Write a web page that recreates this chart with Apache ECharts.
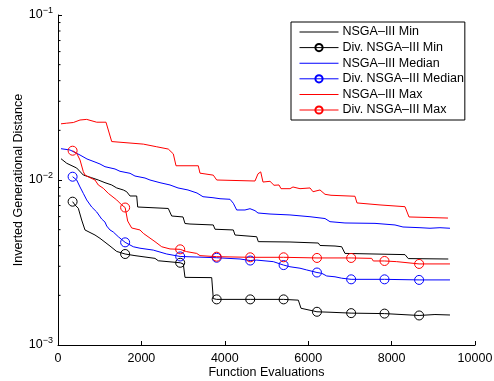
<!DOCTYPE html>
<html>
<head>
<meta charset="utf-8">
<script src="https://cdn.jsdelivr.net/npm/echarts@6/dist/echarts.min.js"></script>
<style>
html,body{margin:0;padding:0;background:#fff;}
#chart{width:494px;height:381px;}
</style>
</head>
<body>
<div id="chart"></div>
<script>
// ---- Data (x = function evaluations, y = IGD) ----
var seriesNames = ['NSGA\u2013III Min', 'Div. NSGA\u2013III Min', 'NSGA\u2013III Median',
  'Div. NSGA\u2013III Median', 'NSGA\u2013III Max', 'Div. NSGA\u2013III Max'];
var xTicks = [0, 2000, 4000, 6000, 8000, 10000];
var yMinorTicks = [0.002,0.003,0.004,0.005,0.006,0.007,0.008,0.009,
  0.02,0.03,0.04,0.05,0.06,0.07,0.08,0.09];

var nsgaMin = [[72,0.01346],[209,0.01263],[448,0.01182],[607,0.01072],[808,0.01032],[966,0.0100],
  [1127,0.00963],[1288,0.00933],[1408,0.00895],[1566,0.00870],[1647,0.00849],[1727,0.00800],
  [1887,0.00800],[1911,0.00686],[2645,0.00672],[2726,0.00605],[2998,0.00597],[3045,0.00545],
  [3165,0.00541],[3724,0.00534],[3765,0.00503],[4204,0.00498],[4245,0.00464],[4765,0.00453],
  [4803,0.00423],[5563,0.00421],[6242,0.00415],[6283,0.00401],[6643,0.00398],[6803,0.00394],
  [6882,0.00359],[8321,0.00353],[8400,0.00334],[9359,0.00332]];

var divMinCurve = [[408,0.00706],[487,0.00674],[568,0.00572],[647,0.00498],[688,0.00486],
  [887,0.00464],[1007,0.00443],[1247,0.00398],[1408,0.00369],[1846,0.00348],[2326,0.00335],
  [2405,0.00324],[3005,0.00310],[3045,0.00257],[3686,0.00256],[3724,0.00191],[5763,0.00187],
  [5827,0.00167],[6523,0.00158],[9040,0.00153],[9400,0.00152]];
var divMinMarkers = [[350,0.00739],[1610,0.00356],[2930,0.00315],[3805,0.00189],[4610,0.00189],
  [5410,0.00189],[6210,0.00159],[7030,0.00156],[7830,0.00155],[8660,0.00151]];

var nsgaMedian = [[72,0.01548],[288,0.01520],[528,0.01417],[695,0.01341],[887,0.01285],
  [1007,0.01250],[1127,0.01204],[1367,0.01166],[1487,0.01129],[1727,0.01098],[1846,0.01057],
  [2086,0.01028],[2206,0.0100],[2446,0.00963],[2686,0.00933],[2878,0.00895],[3117,0.00870],
  [3333,0.00834],[3477,0.00792],[3717,0.00781],[3885,0.00770],[4125,0.00764],[4204,0.00723],
  [4285,0.00658],[4484,0.00658],[4604,0.00670],[4724,0.00652],[4796,0.00631],[5084,0.00622],
  [5563,0.00614],[6043,0.00599],[6403,0.00584],[6523,0.00559],[6882,0.00549],[7602,0.00546],
  [8081,0.00534],[8273,0.00519],[8681,0.00514],[8921,0.00510],[9160,0.00514],[9400,0.00510]];

var divMedianCurve = [[448,0.0100],[528,0.00907],[607,0.00830],[688,0.00757],[808,0.00686],
  [928,0.00640],[1048,0.00580],[1127,0.00556],[1168,0.00526],[1247,0.00498],[1326,0.00484],
  [1446,0.00453],[1806,0.00394],[1966,0.00386],[2285,0.00376],[2607,0.00356],[4365,0.00332],
  [4765,0.00327],[5163,0.00320],[5563,0.00298],[5803,0.00292],[5964,0.00285],[6324,0.00272],
  [6444,0.00262],[6643,0.00259],[6803,0.00254],[9400,0.00248]];
var divMedianMarkers = [[350,0.01047],[1610,0.00419],[2930,0.00344],[3805,0.00338],[4610,0.00325],
  [5410,0.00305],[6210,0.00275],[7030,0.00250],[7830,0.00250],[8660,0.00248]];

var nsgaMax = [[72,0.0219],[209,0.0221],[367,0.0223],[528,0.0231],[688,0.0233],[928,0.0224],
  [1151,0.0224],[1288,0.0171],[2046,0.0165],[2367,0.0159],[2645,0.0154],[2765,0.0144],
  [2830,0.0122],[3364,0.0122],[3405,0.0110],[3724,0.0107],[3806,0.0100],[4724,0.00986],
  [4796,0.0109],[4861,0.0112],[4916,0.00972],[5084,0.00982],[5180,0.00929],[5300,0.00933],
  [5348,0.00886],[5563,0.00886],[5635,0.00907],[5803,0.00886],[6043,0.00895],[6115,0.00849],
  [6283,0.00870],[6403,0.00819],[6547,0.00808],[7122,0.00797],[7170,0.00726],[7722,0.00706],
  [8321,0.00689],[8417,0.00597],[9352,0.00588]];

var divMaxCurve = [[448,0.01452],[528,0.01322],[607,0.01123],[647,0.01072],[727,0.01045],
  [887,0.0100],[966,0.00933],[1086,0.00891],[1206,0.00830],[1408,0.00757],[1528,0.00706],
  [1671,0.00564],[1767,0.00512],[1966,0.00498],[2046,0.00475],[2326,0.00423],[2487,0.00394],
  [2686,0.00382],[3086,0.00368],[3326,0.00359],[3405,0.00348],[6961,0.00337],[7522,0.00335],
  [7561,0.00323],[8122,0.00320],[8160,0.00312],[9400,0.00310]];
var divMaxMarkers = [[350,0.01505],[1610,0.00681],[2930,0.00380],[3805,0.00343],[4610,0.00340],
  [5410,0.00340],[6210,0.00337],[7030,0.00337],[7830,0.00323],[8660,0.00310]];

var colors = ['#000000','#000000','#0000ff','#0000ff','#ff0000','#ff0000'];

// ---- Build ----
function merged(curve, markers) {
  var items = [];
  curve.forEach(function (p) { items.push({value: p, symbol: 'none'}); });
  markers.forEach(function (p) { items.push({value: p}); });
  items.sort(function (a, b) { return a.value[0] - b.value[0]; });
  return items;
}
function plain(name, data, color) {
  return {name: name, type: 'line', data: data, symbol: 'none', showSymbol: false,
    lineStyle: {color: color, width: 1}, itemStyle: {color: color}, z: 3};
}
function marked(name, curve, markers, color) {
  return {name: name, type: 'line', data: merged(curve, markers), symbol: 'circle',
    symbolSize: 9, showAllSymbol: true,
    lineStyle: {color: color, width: 1},
    itemStyle: {color: 'rgba(255,255,255,0)', borderColor: color, borderWidth: 1}, z: 3};
}
var FONT = 'Liberation Sans, Arial, Helvetica, sans-serif';
var lineIcon = 'path://M0,0 L40,0 L40,1 L0,1 Z';

var chart = echarts.init(document.getElementById('chart'), null, {renderer: 'canvas'});
chart.setOption({
  animation: false,
  backgroundColor: '#fff',
  textStyle: {fontFamily: FONT, color: '#000'},
  grid: {left: 58, right: 19, top: 15, bottom: 36, containLabel: false, outerBoundsMode: 'none'},
  legend: {
    data: seriesNames.map(function (n, i) {
      return i % 2 === 0 ? {name: n, icon: lineIcon} : {name: n};
    }),
    orient: 'vertical',
    left: 291, top: 22,
    padding: [3, 1, 3, 8],
    itemWidth: 39, itemHeight: 9, itemGap: 1.6,
    lineStyle: {width: 1},
    borderColor: '#000', borderWidth: 1, backgroundColor: '#fff',
    textStyle: {fontFamily: FONT, fontSize: 12.5, color: '#000', lineHeight: 14, padding: [0,0,0,-1]},
    selectedMode: false
  },
  xAxis: {
    type: 'value', min: xTicks[0], max: xTicks[xTicks.length - 1], interval: 2000,
    name: 'Function Evaluations', nameLocation: 'middle', nameGap: 21, nameMoveOverlap: false,
    nameTextStyle: {fontFamily: FONT, fontSize: 12.5, color: '#000'},
    axisLine: {show: true, lineStyle: {color: '#000', width: 1}},
    axisTick: {show: true, inside: true, length: 4, lineStyle: {color: '#000'}},
    axisLabel: {fontFamily: FONT, fontSize: 12.5, color: '#000', margin: 7,
      formatter: function (v) { return String(v); }},
    splitLine: {show: false}
  },
  yAxis: {
    type: 'log', logBase: 10, min: 0.001, max: 0.1,
    name: 'Inverted Generational Distance', nameLocation: 'middle', nameGap: 33, nameMoveOverlap: false,
    nameTextStyle: {fontFamily: FONT, fontSize: 12.5, color: '#000'},
    axisLine: {show: true, lineStyle: {color: '#000', width: 1}},
    axisTick: {show: true, inside: true, length: 4, lineStyle: {color: '#000'}},
    axisLabel: {
      margin: 5,
      formatter: function (v) {
        var e = Math.round(Math.log10(v));
        return '{b|10}{s|\u2212' + Math.abs(e) + '}';
      },
      rich: {
        b: {fontFamily: FONT, fontSize: 12.5, color: '#000'},
        s: {fontFamily: FONT, fontSize: 9, color: '#000', padding: [0, 0, 9, 0]}
      }
    },
    splitLine: {show: false}
  },
  series: [
    plain(seriesNames[0], nsgaMin, colors[0]),
    marked(seriesNames[1], divMinCurve, divMinMarkers, colors[1]),
    plain(seriesNames[2], nsgaMedian, colors[2]),
    marked(seriesNames[3], divMedianCurve, divMedianMarkers, colors[3]),
    plain(seriesNames[4], nsgaMax, colors[4]),
    marked(seriesNames[5], divMaxCurve, divMaxMarkers, colors[5]),
    {
      type: 'custom', name: 'minorTicks', silent: true, z: 2,
      data: yMinorTicks.map(function (v) { return [0, v]; }),
      renderItem: function (params, api) {
        var p = api.coord([api.value(0), api.value(1)]);
        return {type: 'line', shape: {x1: p[0], y1: p[1], x2: p[0] + 2.5, y2: p[1]},
          style: {stroke: '#000', lineWidth: 1}};
      }
    }
  ]
});
</script>
</body>
</html>
